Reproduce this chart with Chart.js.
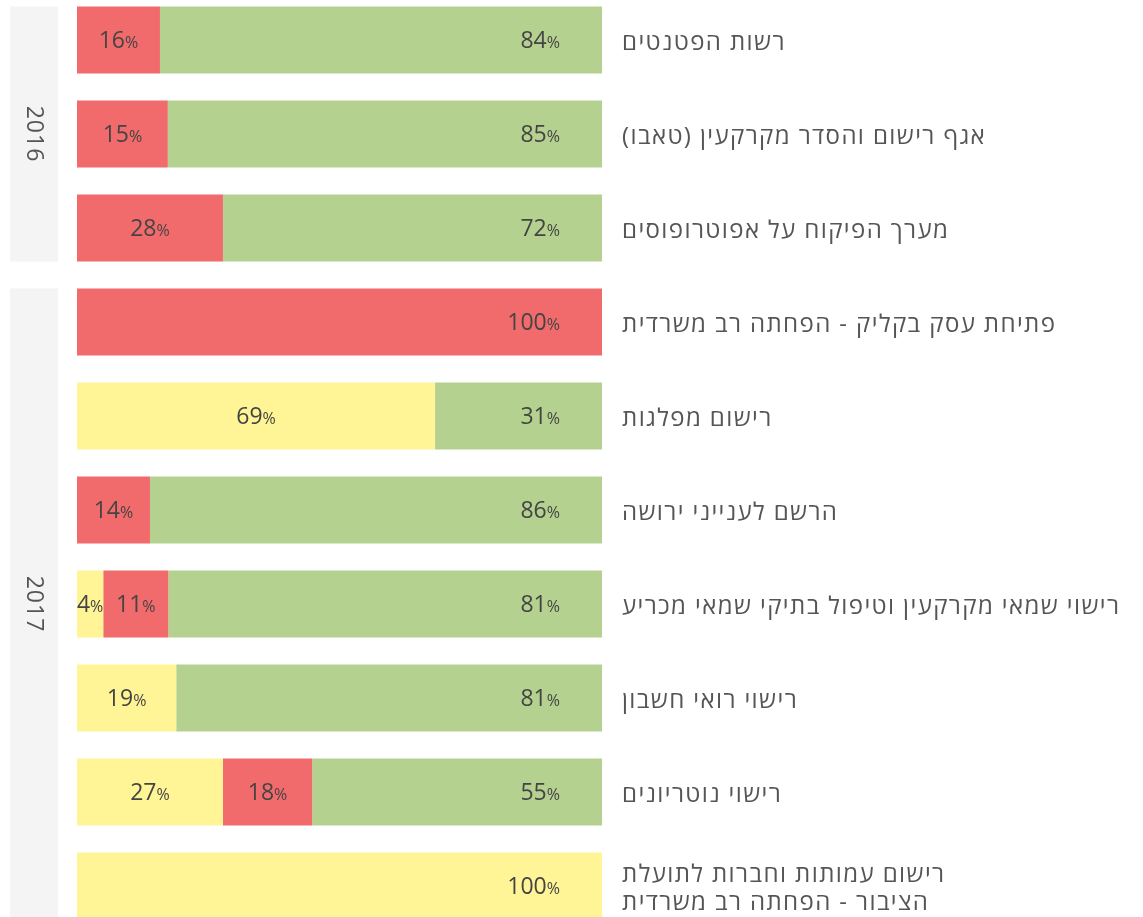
<!DOCTYPE html>
<html lang="he">
<head>
<meta charset="utf-8">
<script src="https://cdn.jsdelivr.net/npm/chart.js@4"></script>
<style>
  html, body { margin: 0; padding: 0; background: #fff; overflow: hidden; }
  #wrap { position: absolute; left: 0; top: -7px; width: 1143px; height: 940px; }
</style>
</head>
<body>
<div id="wrap"><canvas id="servicesChart" dir="rtl"></canvas></div>
<script>
const categories = [
  'רשות הפטנטים',
  'אגף רישום והסדר מקרקעין (טאבו)',
  'מערך הפיקוח על אפוטרופוסים',
  'פתיחת עסק בקליק - הפחתה רב משרדית',
  'רישום מפלגות',
  'הרשם לענייני ירושה',
  'רישוי שמאי מקרקעין וטיפול בתיקי שמאי מכריע',
  'רישוי רואי חשבון',
  'רישוי נוטריונים',
  ['רישום עמותות וחברות לתועלת', 'הציבור - הפחתה רב משרדית']
]
const years = ['2016', '2017']
const yearRows = [3, 7]

// bar lengths as drawn in the picture
const yellowBar = [0, 0, 0, 0, 68.2, 0, 5, 18.9, 27.8, 100]
const redBar = [15.8, 17.3, 27.8, 100, 0, 13.9, 12.4, 0, 17, 0]
const greenBar = [84.2, 82.7, 72.2, 0, 31.8, 86.1, 82.6, 81.1, 55.2, 0]

// the numbers printed on the bars
const yellowText = [null, null, null, null, '69', null, '4', '19', '27', '100']
const redText = ['16', '15', '28', '100', null, '14', '11', null, '18', null]
const greenText = ['84', '85', '72', null, '31', '86', '81', '81', '55', null]

const FONT = "'Open Sans', 'Noto Sans', 'DejaVu Sans', sans-serif"

const yearBands = {
  id: 'yearBands',
  beforeDraw(chart) {
    // a bit of tracking on the hebrew labels, like the original
    chart.ctx.letterSpacing = '1.4px'
    // nudge the category labels a few px down
    const s = chart.scales.y
    if (s && !s._nudged) {
      const orig = s.drawLabels.bind(s)
      s.drawLabels = function (area) {
        chart.ctx.save()
        chart.ctx.translate(0, 3)
        orig(area)
        chart.ctx.restore()
      }
      s._nudged = true
    }
  },
  beforeDatasetsDraw(chart) {
    const ctx = chart.ctx
    const bars = chart.getDatasetMeta(0).data
    let start = 0
    years.forEach((year, g) => {
      const first = bars[start]
      const last = bars[start + yearRows[g] - 1]
      const top = first.y - first.height / 2
      const bottom = last.y + last.height / 2
      ctx.save()
      ctx.letterSpacing = '1px'
      ctx.fillStyle = '#f4f4f4'
      ctx.fillRect(10, top, 48, bottom - top)
      ctx.translate(34, (top + bottom) / 2)
      ctx.rotate(Math.PI / 2)
      ctx.direction = 'ltr'
      ctx.fillStyle = '#555'
      ctx.font = '23px ' + FONT
      ctx.textAlign = 'center'
      ctx.textBaseline = 'middle'
      ctx.fillText(year, 0, 0)
      ctx.restore()
      start += yearRows[g]
    })
  }
}

const barValues = {
  id: 'barValues',
  afterDatasetsDraw(chart) {
    const ctx = chart.ctx
    const texts = [yellowText, redText, greenText]
    ctx.save()
    ctx.letterSpacing = '0px'
    ctx.direction = 'ltr'
    ctx.fillStyle = '#444'
    ctx.textBaseline = 'middle'
    ctx.textAlign = 'left'
    chart.data.datasets.forEach((ds, d) => {
      chart.getDatasetMeta(d).data.forEach((bar, i) => {
        const txt = texts[d][i]
        if (!txt) return
        let isLast = true
        for (let k = d + 1; k < chart.data.datasets.length; k++) {
          if (chart.data.datasets[k].data[i] > 0) isLast = false
        }
        ctx.font = '23px ' + FONT
        const wNum = ctx.measureText(txt).width
        ctx.font = '16px ' + FONT
        const wPct = ctx.measureText('%').width
        const total = wNum + wPct
        let x
        if (isLast) x = bar.x - 42 - total
        else x = (bar.base + bar.x) / 2 - total / 2
        const y = bar.y + 1
        ctx.font = '23px ' + FONT
        ctx.fillText(txt, x, y)
        ctx.font = '16px ' + FONT
        ctx.fillText('%', x + wNum, y + 2)
      })
    })
    ctx.restore()
  }
}

const ctx = document.getElementById('servicesChart')
new Chart(ctx, {
  type: 'bar',
  data: {
    labels: categories,
    datasets: [
      { label: 'yellow', data: yellowBar, backgroundColor: '#fff596' },
      { label: 'red', data: redBar, backgroundColor: '#f26b6c' },
      { label: 'green', data: greenBar, backgroundColor: '#b5d190' }
    ]
  },
  options: {
    indexAxis: 'y',
    responsive: true,
    maintainAspectRatio: false,
    animation: false,
    borderWidth: 0,
    categoryPercentage: 1,
    barPercentage: 67 / 94,
    layout: { padding: { left: 77, top: 0, bottom: 0, right: 0 } },
    plugins: {
      legend: { display: false },
      tooltip: { enabled: false }
    },
    scales: {
      x: {
        stacked: true,
        min: 0,
        max: 100,
        display: false
      },
      y: {
        stacked: true,
        position: 'right',
        grid: { display: false },
        border: { display: false },
        afterFit(scale) {
          scale.width = 541
          scale.paddingTop = 0
          scale.paddingBottom = 0
        },
        ticks: {
          padding: 12,
          color: '#555',
          font: { family: FONT, size: 24, lineHeight: 1.15 }
        }
      }
    }
  },
  plugins: [yearBands, barValues]
})
</script>
</body>
</html>
